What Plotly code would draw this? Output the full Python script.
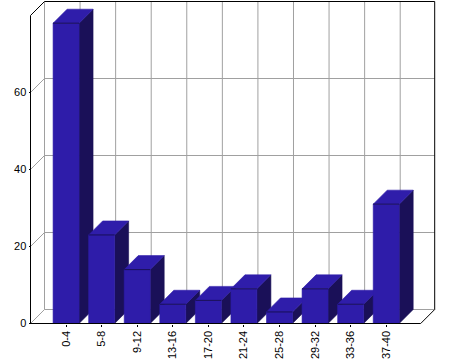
import plotly.graph_objects as go

# ---- data ----
categories = ["0-4", "5-8", "9-12", "13-16", "17-20", "21-24", "25-28", "29-32", "33-36", "37-40"]
values = [78, 23, 14, 5, 6, 9, 3, 9, 5, 31]
y_ticks = [0, 20, 40, 60]
y_max = 80

# ---- geometry / style ----
W, H = 470, 360
ML, MR, MT, MB = 24, 28, 0, 28
front_left_px, front_bottom_px = 30.5, 323.5
px_per_cat, px_per_val = 35.57, 3.85
x_lo, x_hi = -1.0, 9.97          # front plane extent in category units
depth_px = 14
dx, dy = depth_px / px_per_cat, depth_px / px_per_val
bar_w = 0.73

front_col = "#2e1ca9"
top_col = "#2f1daa"
side_col = "#1a1058"
grid_col = "#a0a0a0"

plot_w, plot_h = W - ML - MR, H - MT - MB
xr = [x_lo - (front_left_px - ML) / px_per_cat, x_lo + (ML + plot_w - front_left_px) / px_per_cat]
yr = [-(MT + plot_h - front_bottom_px) / px_per_val, (front_bottom_px - MT) / px_per_val]

idx = list(range(len(categories)))


def segs(pairs):
    xs, ys = [], []
    for (x0, y0), (x1, y1) in pairs:
        xs += [x0, x1, None]
        ys += [y0, y1, None]
    return xs, ys


def polys(list_of_pts):
    xs, ys = [], []
    for pts in list_of_pts:
        for (x, y) in pts:
            xs.append(x)
            ys.append(y)
        xs.append(pts[0][0]); ys.append(pts[0][1])
        xs.append(None); ys.append(None)
    return xs, ys


fig = go.Figure()

# back wall / left wall grid (gray)
gray = []
for v in y_ticks:
    gray.append(((x_lo + dx, v + dy), (x_hi + dx, v + dy)))
    gray.append(((x_lo, v), (x_lo + dx, v + dy)))
for i in idx:
    gray.append(((i + dx, dy), (i + dx, y_max + dy)))
gray.append(((x_lo + dx, dy), (x_lo + dx, y_max + dy)))
gx, gy = segs(gray)
fig.add_trace(go.Scatter(x=gx, y=gy, mode="lines", line=dict(color=grid_col, width=1),
                         hoverinfo="skip", showlegend=False))

# bars
sides, tops, fronts, edges = [], [], [], []
for i, v in zip(idx, values):
    l, r = i - bar_w / 2, i + bar_w / 2
    sides.append([(r, 0), (r + dx, dy), (r + dx, v + dy), (r, v)])
    tops.append([(l, v), (r, v), (r + dx, v + dy), (l + dx, v + dy)])
    fronts.append([(l, 0), (r, 0), (r, v), (l, v)])
    edges.append(((l, v), (r, v)))

for shapes, col in ((sides, side_col), (tops, top_col), (fronts, front_col)):
    px_, py_ = polys(shapes)
    fig.add_trace(go.Scatter(x=px_, y=py_, mode="lines", fill="toself", fillcolor=col,
                             line=dict(color=col, width=0.6), hoverinfo="skip", showlegend=False))

ex, ey = segs(edges)
fig.add_trace(go.Scatter(x=ex, y=ey, mode="lines", line=dict(color=side_col, width=1),
                         hoverinfo="skip", showlegend=False))

# black frame lines
black = [
    ((x_lo, 0), (x_lo, y_max)),
    ((x_lo, y_max), (x_lo + dx, y_max + dy)),
    ((x_lo + dx, y_max + dy), (x_hi + dx, y_max + dy)),
    ((x_hi + dx, y_max + dy), (x_hi + dx, dy)),
    ((x_hi + dx, dy), (x_hi, 0)),
    ((x_lo, 0), (x_hi, 0)),
]
bx, by = segs(black)
fig.add_trace(go.Scatter(x=bx, y=by, mode="lines", line=dict(color="black", width=1),
                         hoverinfo="skip", showlegend=False))

font = dict(family="Liberation Sans, Arial, sans-serif", size=11, color="black")
fig.update_layout(
    width=W, height=H,
    margin=dict(l=ML, r=MR, t=MT, b=MB, pad=0),
    paper_bgcolor="white", plot_bgcolor="white",
    showlegend=False,
    xaxis=dict(range=xr, showgrid=False, zeroline=False, showline=False,
               tickmode="array", tickvals=idx, ticktext=categories, tickangle=-90,
               ticks="outside", ticklen=2, tickcolor="black", tickwidth=1,
               tickfont=font, anchor="free",
               position=(MT + plot_h - front_bottom_px) / plot_h),
    yaxis=dict(range=yr, showgrid=False, zeroline=False, showline=False,
               tickmode="array", tickvals=y_ticks, ticktext=[str(t) for t in y_ticks],
               ticks="outside", ticklen=2, tickcolor="black", tickwidth=1,
               tickfont=font, anchor="free",
               position=(front_left_px - ML) / plot_w),
)

fig.write_html("out.html")
